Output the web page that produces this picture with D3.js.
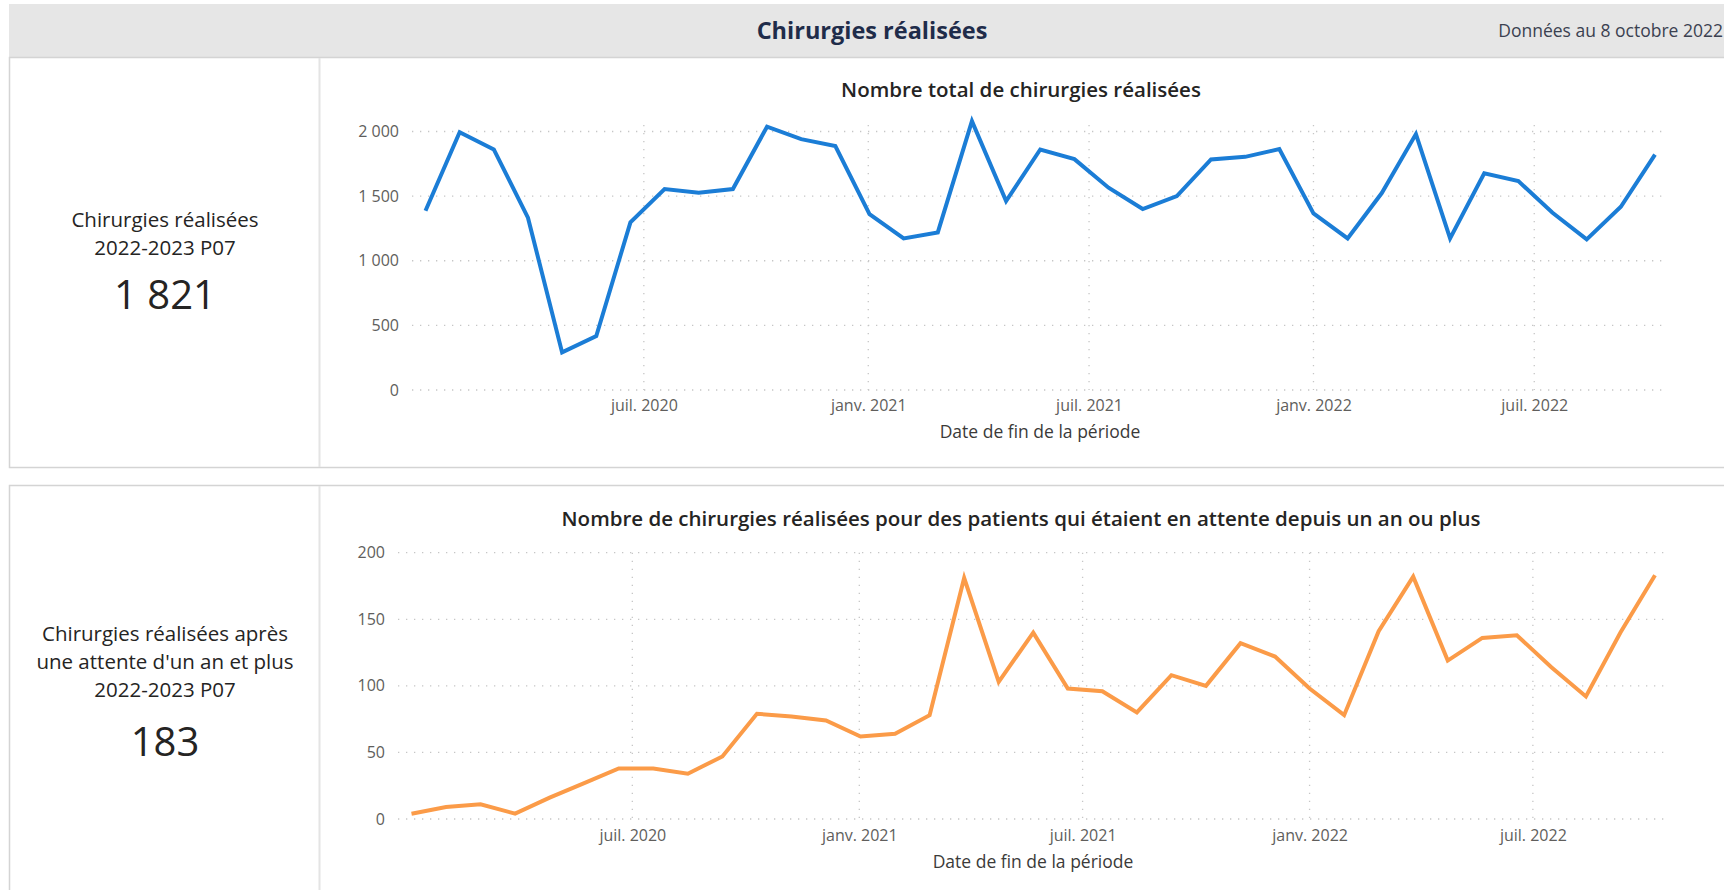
<!DOCTYPE html>
<html lang="fr">
<head>
<meta charset="utf-8">
<title>Chirurgies réalisées</title>
<script src="https://cdn.jsdelivr.net/npm/d3@7"></script>
<style>
  html, body { margin: 0; padding: 0; background: #ffffff; }
  svg { display: block; font-family: "Open Sans", "Noto Sans", sans-serif; }
</style>
</head>
<body>
<svg id="chart" width="1724" height="890"></svg>
<script>
// ---- données ----
// fins de période (périodes de 28 jours)
const periodEnds = [
  '2020-01-04', '2020-02-01', '2020-02-29', '2020-03-28', '2020-04-25', '2020-05-23',
  '2020-06-20', '2020-07-18', '2020-08-15', '2020-09-12', '2020-10-10', '2020-11-07',
  '2020-12-05', '2021-01-02', '2021-01-30', '2021-02-27', '2021-03-27', '2021-04-24',
  '2021-05-22', '2021-06-19', '2021-07-17', '2021-08-14', '2021-09-11', '2021-10-09',
  '2021-11-06', '2021-12-04', '2022-01-01', '2022-01-29', '2022-02-26', '2022-03-26',
  '2022-04-23', '2022-05-21', '2022-06-18', '2022-07-16', '2022-08-13', '2022-09-10',
  '2022-10-08'
];

const totalSurgeries = [
  1387, 1995, 1861, 1333, 291, 418, 1297, 1555, 1526, 1555, 2037, 1941,
  1887, 1361, 1173, 1219, 2080, 1462, 1861, 1786, 1565, 1400, 1500, 1784,
  1804, 1864, 1366, 1173, 1524, 1980, 1173, 1676, 1616, 1371, 1165, 1418,
  1821
];

const longWaitSurgeries = [
  4, 9, 11, 4, 16, 27, 38, 38, 34, 47, 79, 77,
  74, 62, 64, 78, 181, 103, 140, 98, 96, 80, 108, 100,
  132, 122, 98, 78, 141, 182, 119, 136, 138, 114, 92, 140,
  183
];

const xTickDates = ['2020-07-01', '2021-01-01', '2021-07-01', '2022-01-01', '2022-07-01'];
const xTickLabels = ['juil. 2020', 'janv. 2021', 'juil. 2021', 'janv. 2022', 'juil. 2022'];
const totalTicks = [0, 500, 1000, 1500, 2000];
const longWaitTicks = [0, 50, 100, 150, 200];

const parseDate = d3.timeParse('%Y-%m-%d');
const dates = periodEnds.map(parseDate);
const tickDates = xTickDates.map(parseDate);

// séparateur de milliers avec espace, comme dans le rapport
const frLocale = d3.formatLocale({ decimal: ',', thousands: '\u00a0', grouping: [3], currency: ['', ' $'] });
const fmtNum = frLocale.format(',d');

const FONT = '"Open Sans", "Noto Sans", sans-serif';
const svg = d3.select('#chart');

// ---- bandeau d'en-tête ----
svg.append('rect')
  .attr('x', 9).attr('y', 4)
  .attr('width', 1724).attr('height', 53)
  .attr('fill', '#e6e6e6');

svg.append('text')
  .attr('x', 872).attr('y', 38.5)
  .attr('text-anchor', 'middle')
  .attr('font-size', 23.5).attr('font-weight', 700)
  .attr('fill', '#1f2c4a')
  .text('Chirurgies réalisées');

svg.append('text')
  .attr('x', 1723).attr('y', 36.5)
  .attr('text-anchor', 'end')
  .attr('font-size', 17.5)
  .attr('fill', '#3b4150')
  .text('Données au 8 octobre 2022');

/**
 * Un panneau : carte à gauche + graphique linéaire à droite
 */
function drawPanel(cfg) {
  const g = svg.append('g').attr('class', 'panel');

  // cadre
  g.append('rect')
    .attr('x', 9.5).attr('y', cfg.top + 0.5)
    .attr('width', 1800).attr('height', cfg.bottom - cfg.top)
    .attr('fill', '#ffffff')
    .attr('stroke', '#d4d4d4').attr('stroke-width', 1.5);

  g.append('line')
    .attr('x1', 319.5).attr('x2', 319.5)
    .attr('y1', cfg.top + 1).attr('y2', cfg.bottom)
    .attr('stroke', '#e4e4e4').attr('stroke-width', 2);

  // carte de gauche
  const card = g.append('g').attr('text-anchor', 'middle').attr('fill', '#252423');
  cfg.cardLines.forEach((txt, i) => {
    card.append('text')
      .attr('x', 165).attr('y', cfg.cardY + i * 28)
      .attr('font-size', 20.5)
      .text(txt);
  });
  card.append('text')
    .attr('x', 165).attr('y', cfg.cardValueY)
    .attr('font-size', 40)
    .attr('fill', '#252423')
    .text(fmtNum(cfg.values[cfg.values.length - 1]));

  // échelles
  const plotLeft = cfg.plotLeft, plotRight = 1668;
  const x = d3.scaleTime()
    .domain(d3.extent(dates))
    .range([plotLeft + 13.5, plotRight - 13]);
  const y = d3.scaleLinear()
    .domain([0, cfg.ticks[cfg.ticks.length - 1]])
    .range([cfg.y0, cfg.yTop]);

  // titre du graphique
  g.append('text')
    .attr('x', 1021).attr('y', cfg.titleY)
    .attr('text-anchor', 'middle')
    .attr('font-size', 20.5).attr('font-weight', 600)
    .attr('fill', '#252423')
    .text(cfg.title);

  // quadrillage pointillé
  const grid = g.append('g')
    .attr('stroke', '#c6c6c6').attr('stroke-width', 1.3)
    .attr('stroke-dasharray', '1.3 6.7');
  grid.selectAll('.hgrid').data(cfg.ticks).enter().append('line')
    .attr('class', 'hgrid')
    .attr('x1', plotLeft).attr('x2', plotRight)
    .attr('y1', (d) => y(d)).attr('y2', (d) => y(d));
  grid.selectAll('.vgrid').data(tickDates).enter().append('line')
    .attr('class', 'vgrid')
    .attr('x1', (d) => x(d)).attr('x2', (d) => x(d))
    .attr('y1', cfg.vGridTop).attr('y2', cfg.y0);

  // axe Y
  const yAxis = g.append('g')
    .attr('transform', `translate(${plotLeft},0)`)
    .call(d3.axisLeft(y).tickValues(cfg.ticks).tickSize(0).tickPadding(13).tickFormat(fmtNum));
  yAxis.select('.domain').remove();
  yAxis.selectAll('text')
    .attr('font-size', 16).attr('fill', '#605e5c')
    .attr('font-family', FONT);

  // axe X
  const xAxis = g.append('g')
    .attr('transform', `translate(0,${cfg.xLabelY})`)
    .call(d3.axisBottom(x).tickValues(tickDates).tickSize(0).tickPadding(0)
      .tickFormat((d, i) => xTickLabels[i]));
  xAxis.select('.domain').remove();
  xAxis.selectAll('text')
    .attr('dy', 0)
    .attr('font-size', 16).attr('fill', '#605e5c')
    .attr('font-family', FONT);

  g.append('text')
    .attr('x', (plotLeft + plotRight) / 2).attr('y', cfg.xTitleY)
    .attr('text-anchor', 'middle')
    .attr('font-size', 17.5)
    .attr('fill', '#3b3a39')
    .text('Date de fin de la période');

  // la courbe
  const line = d3.line()
    .x((d, i) => x(dates[i]))
    .y((d) => y(d));

  g.append('path')
    .datum(cfg.values)
    .attr('d', line)
    .attr('fill', 'none')
    .attr('stroke', cfg.color)
    .attr('stroke-width', 4)
    .attr('stroke-linejoin', 'miter');
}

drawPanel({
  top: 57, bottom: 467,
  cardLines: ['Chirurgies réalisées', '2022-2023 P07'],
  cardY: 227, cardValueY: 309,
  values: totalSurgeries,
  ticks: totalTicks,
  title: 'Nombre total de chirurgies réalisées',
  titleY: 97,
  plotLeft: 412,
  y0: 390, yTop: 131.5, vGridTop: 125,
  xLabelY: 411, xTitleY: 438,
  color: '#1b7dd6'
});

drawPanel({
  top: 485, bottom: 900,
  cardLines: ['Chirurgies réalisées après', "une attente d'un an et plus", '2022-2023 P07'],
  cardY: 641, cardValueY: 756,
  values: longWaitSurgeries,
  ticks: longWaitTicks,
  title: 'Nombre de chirurgies réalisées pour des patients qui étaient en attente depuis un an ou plus',
  titleY: 526,
  plotLeft: 398,
  y0: 819, yTop: 552.7, vGridTop: 552.7,
  xLabelY: 841, xTitleY: 868,
  color: '#fb9b48'
});
</script>
</body>
</html>
